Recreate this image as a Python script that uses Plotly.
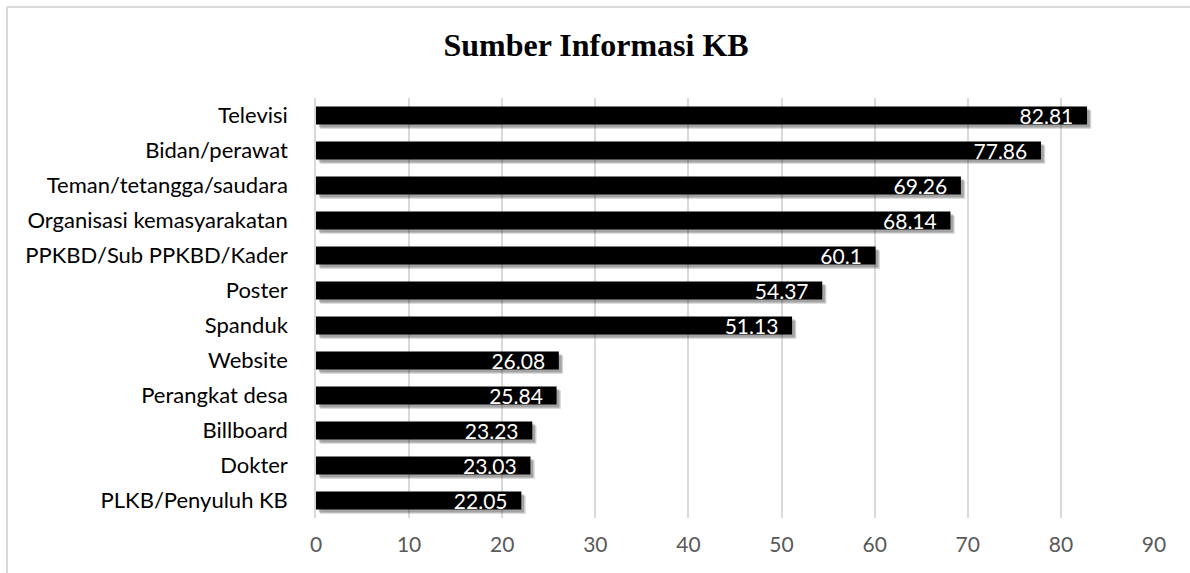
import plotly.graph_objects as go

categories = ["Televisi", "Bidan/perawat", "Teman/tetangga/saudara", "Organisasi kemasyarakatan",
              "PPKBD/Sub PPKBD/Kader", "Poster", "Spanduk", "Website", "Perangkat desa",
              "Billboard", "Dokter", "PLKB/Penyuluh KB"]
values = [82.81, 77.86, 69.26, 68.14, 60.1, 54.37, 51.13, 26.08, 25.84, 23.23, 23.03, 22.05]
labels = ["82.81", "77.86", "69.26", "68.14", "60.1", "54.37", "51.13", "26.08", "25.84", "23.23", "23.03", "22.05"]
x_ticks = [0, 10, 20, 30, 40, 50, 60, 70, 80, 90]
title = "Sumber Informasi KB"

W, H = 1190, 573
L, R, T, B = 316, 36, 98, 55

fig = go.Figure()
# soft drop shadow
for sx, sy, a in [(0.45, 0.12, 0.18), (0.3, 0.08, 0.22)]:
    fig.add_trace(go.Bar(
        y=categories, x=values, orientation="h", base=sx,
        width=0.52, offset=-0.26 + sy,
        marker=dict(color=f"rgba(0,0,0,{a})", line=dict(width=0)),
        hoverinfo="skip", showlegend=False,
    ))
fig.add_trace(go.Bar(
    y=categories, x=values, orientation="h",
    width=0.52, offset=-0.26,
    marker=dict(color="#000000", line=dict(width=0)),
    text=[t + "\u00a0\u00a0" for t in labels],
    textposition="inside", insidetextanchor="end",
    textfont=dict(family="Lato, 'Open Sans', sans-serif", size=21, color="#ffffff"),
    constraintext="none",
    showlegend=False,
))

fig.update_layout(
    width=W, height=H,
    barmode="overlay",
    paper_bgcolor="#ffffff", plot_bgcolor="#ffffff",
    margin=dict(l=L, r=R, t=T, b=B),
    uniformtext=dict(minsize=8, mode=False),
    title=dict(text=f"<b>{title}</b>", x=(596) / W, xanchor="center",
               y=1 - 45 / H, yanchor="middle",
               font=dict(family="'Liberation Serif', 'Times New Roman', serif", size=32, color="#000000")),
    xaxis=dict(range=[0, 90], tickvals=x_ticks, showgrid=True, gridcolor="#d9d9d9", gridwidth=1.5,
               zeroline=False, showline=False, ticks="", ticklabelstandoff=12,
               tickfont=dict(family="Lato, 'Open Sans', sans-serif", size=21, color="#595959")),
    yaxis=dict(autorange="reversed", showgrid=False, ticks="", showline=True, linecolor="#d9d9d9",
               linewidth=1.5, ticklabelstandoff=22,
               tickfont=dict(family="Lato, 'Open Sans', sans-serif", size=22, color="#000000")),
    shapes=[
        dict(type="line", xref="paper", yref="paper",
             x0=(7 - L) / (W - L - R), x1=(W + 10 - L) / (W - L - R),
             y0=(H - B - 7) / (H - T - B), y1=(H - B - 7) / (H - T - B),
             line=dict(color="#d9d9d9", width=2)),
        dict(type="line", xref="paper", yref="paper",
             x0=(7 - L) / (W - L - R), x1=(7 - L) / (W - L - R),
             y0=-0.3, y1=(H - B - 7) / (H - T - B),
             line=dict(color="#d9d9d9", width=2)),
    ],
)

fig.write_html("out.html")
